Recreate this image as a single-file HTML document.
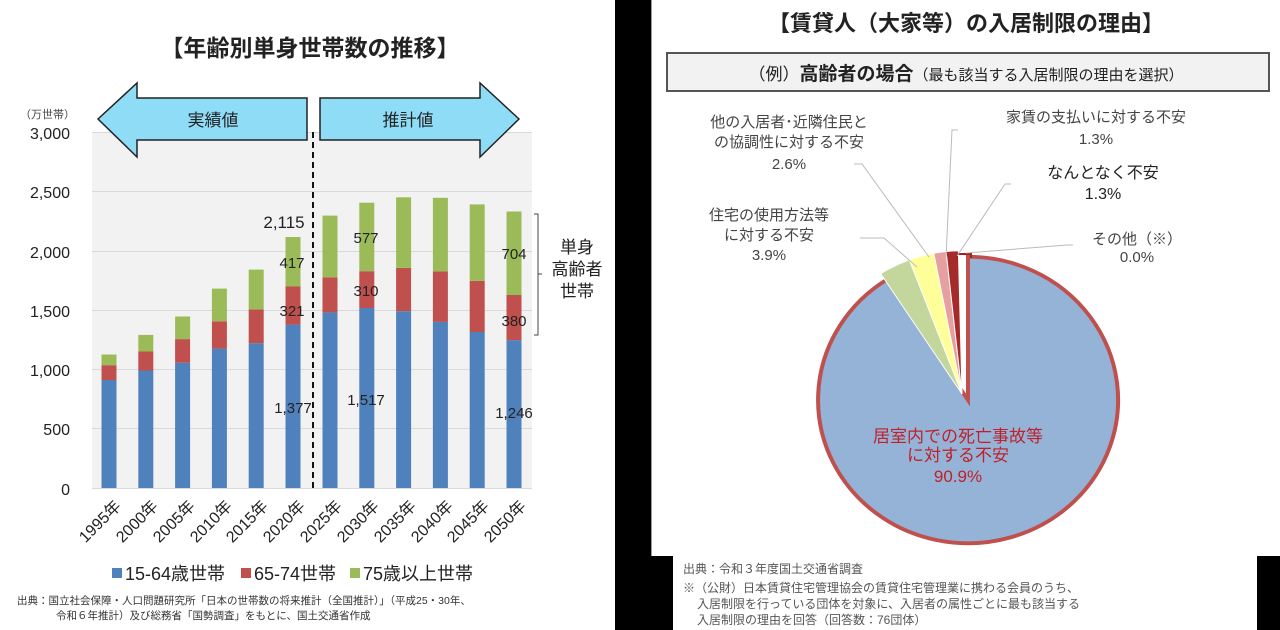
<!DOCTYPE html>
<html><head><meta charset="utf-8"><style>
html,body{margin:0;padding:0;background:#fff}
svg{display:block}
text{font-family:"Liberation Sans","Noto Sans CJK JP",sans-serif}
</style></head><body>
<svg width="1280" height="630" viewBox="0 0 1280 630" xmlns="http://www.w3.org/2000/svg">
<rect width="1280" height="630" fill="#fff"/>
<rect x="615" y="0" width="36" height="630" fill="#000"/>
<rect x="615" y="556" width="58" height="74" fill="#000"/>
<rect x="1257" y="556" width="23" height="74" fill="#000"/>
<line x1="651.5" y1="0" x2="651.5" y2="556" stroke="#999" stroke-width="1"/>

<text x="310" y="56" font-size="23" font-weight="bold" text-anchor="middle" fill="#222">【年齢別単身世帯数の推移】</text>
<rect x="92" y="132" width="440" height="356" fill="#f2f2f2"/>
<g stroke="#d9d9d9" stroke-width="1">
<line x1="92" y1="132.5" x2="532" y2="132.5"/>
<line x1="92" y1="191.5" x2="532" y2="191.5"/>
<line x1="92" y1="251.5" x2="532" y2="251.5"/>
<line x1="92" y1="310.5" x2="532" y2="310.5"/>
<line x1="92" y1="369.5" x2="532" y2="369.5"/>
<line x1="92" y1="428.5" x2="532" y2="428.5"/>
<line x1="92" y1="488.5" x2="532" y2="488.5"/>
</g>
<text x="20" y="118" font-size="11" fill="#444">（万世帯）</text>
<g font-size="16" fill="#222" text-anchor="end">
<text x="70" y="139">3,000</text>
<text x="70" y="198">2,500</text>
<text x="70" y="258">2,000</text>
<text x="70" y="317">1,500</text>
<text x="70" y="376">1,000</text>
<text x="70" y="435">500</text>
<text x="70" y="495">0</text>
</g>
<g>
<rect x="101.5" y="380" width="15" height="108" fill="#4f81bd"/><rect x="101.5" y="365.2" width="15" height="14.8" fill="#c0504d"/><rect x="101.5" y="354.5" width="15" height="10.7" fill="#9bbb59"/>
<rect x="138.3" y="370.5" width="15" height="117.5" fill="#4f81bd"/><rect x="138.3" y="351.5" width="15" height="19" fill="#c0504d"/><rect x="138.3" y="334.9" width="15" height="16.6" fill="#9bbb59"/>
<rect x="175.1" y="362.8" width="15" height="125.2" fill="#4f81bd"/><rect x="175.1" y="339.1" width="15" height="23.7" fill="#c0504d"/><rect x="175.1" y="316.5" width="15" height="22.6" fill="#9bbb59"/>
<rect x="211.9" y="348.6" width="15" height="139.4" fill="#4f81bd"/><rect x="211.9" y="321.3" width="15" height="27.3" fill="#c0504d"/><rect x="211.9" y="288.6" width="15" height="32.7" fill="#9bbb59"/>
<rect x="248.7" y="343.2" width="15" height="144.8" fill="#4f81bd"/><rect x="248.7" y="309.4" width="15" height="33.8" fill="#c0504d"/><rect x="248.7" y="269.6" width="15" height="39.8" fill="#9bbb59"/>
<rect x="285.5" y="324.6" width="15" height="163.4" fill="#4f81bd"/><rect x="285.5" y="286.5" width="15" height="38.1" fill="#c0504d"/><rect x="285.5" y="237" width="15" height="49.5" fill="#9bbb59"/>
<rect x="322.5" y="312.4" width="15" height="175.6" fill="#4f81bd"/><rect x="322.5" y="277.4" width="15" height="35" fill="#c0504d"/><rect x="322.5" y="215.6" width="15" height="61.8" fill="#9bbb59"/>
<rect x="359.3" y="308" width="15" height="180" fill="#4f81bd"/><rect x="359.3" y="271.2" width="15" height="36.8" fill="#c0504d"/><rect x="359.3" y="202.7" width="15" height="68.5" fill="#9bbb59"/>
<rect x="396.1" y="311.2" width="15" height="176.8" fill="#4f81bd"/><rect x="396.1" y="267.9" width="15" height="43.3" fill="#c0504d"/><rect x="396.1" y="197.3" width="15" height="70.6" fill="#9bbb59"/>
<rect x="432.9" y="321.9" width="15" height="166.1" fill="#4f81bd"/><rect x="432.9" y="271.4" width="15" height="50.5" fill="#c0504d"/><rect x="432.9" y="197.8" width="15" height="73.6" fill="#9bbb59"/>
<rect x="469.7" y="332" width="15" height="156" fill="#4f81bd"/><rect x="469.7" y="280.9" width="15" height="51.1" fill="#c0504d"/><rect x="469.7" y="204.4" width="15" height="76.5" fill="#9bbb59"/>
<rect x="506.5" y="340.1" width="15" height="147.9" fill="#4f81bd"/><rect x="506.5" y="295" width="15" height="45.1" fill="#c0504d"/><rect x="506.5" y="211.5" width="15" height="83.5" fill="#9bbb59"/>
</g>
<line x1="313" y1="132" x2="313" y2="490" stroke="#111" stroke-width="2" stroke-dasharray="6,4"/>
<polygon points="98,119 137,83 137,98 307,98 307,140 137,140 137,157" fill="#8fdcf7" stroke="#222" stroke-width="1.5"/>
<text x="213" y="126" font-size="17" text-anchor="middle" fill="#222">実績値</text>
<polygon points="519,119 480,83 480,98 320,98 320,140 480,140 480,157" fill="#8fdcf7" stroke="#222" stroke-width="1.5"/>
<text x="408" y="126" font-size="17" text-anchor="middle" fill="#222">推計値</text>
<g font-size="15" fill="#222" text-anchor="middle">
<text x="284" y="228" font-size="17">2,115</text>
<text x="292" y="268">417</text>
<text x="292" y="316">321</text>
<text x="293" y="413">1,377</text>
<text x="366" y="243">577</text>
<text x="366" y="296">310</text>
<text x="366" y="405">1,517</text>
<text x="514" y="259">704</text>
<text x="514" y="326">380</text>
<text x="514" y="418">1,246</text>
</g>
<path d="M534,214 h4 v121 h-4 M538,274 h4" stroke="#444" fill="none" stroke-width="1"/>
<g font-size="17" fill="#222" text-anchor="middle">
<text x="577" y="253">単身</text>
<text x="577" y="275">高齢者</text>
<text x="577" y="297">世帯</text>
</g>
<g font-size="16" fill="#222" text-anchor="end">
<text transform="translate(122,507) rotate(-45)">1995年</text>
<text transform="translate(159,507) rotate(-45)">2000年</text>
<text transform="translate(196,507) rotate(-45)">2005年</text>
<text transform="translate(233,507) rotate(-45)">2010年</text>
<text transform="translate(269,507) rotate(-45)">2015年</text>
<text transform="translate(306,507) rotate(-45)">2020年</text>
<text transform="translate(343,507) rotate(-45)">2025年</text>
<text transform="translate(380,507) rotate(-45)">2030年</text>
<text transform="translate(417,507) rotate(-45)">2035年</text>
<text transform="translate(454,507) rotate(-45)">2040年</text>
<text transform="translate(490,507) rotate(-45)">2045年</text>
<text transform="translate(527,507) rotate(-45)">2050年</text>
</g>
<rect x="112" y="568" width="10" height="10" fill="#4f81bd"/>
<text x="125" y="580" font-size="18" fill="#222">15-64歳世帯</text>
<rect x="241" y="568" width="10" height="10" fill="#c0504d"/>
<text x="254" y="580" font-size="18" fill="#222">65-74世帯</text>
<rect x="350" y="568" width="10" height="10" fill="#9bbb59"/>
<text x="363" y="580" font-size="18" fill="#222">75歳以上世帯</text>
<text x="17" y="604" font-size="10.5" fill="#333">出典：国立社会保障・人口問題研究所「日本の世帯数の将来推計（全国推計）」（平成25・30年、</text>
<text x="56" y="619" font-size="10.5" fill="#333">令和６年推計）及び総務省「国勢調査」をもとに、国土交通省作成</text>

<text x="966" y="31" font-size="22" font-weight="bold" text-anchor="middle" fill="#222">【賃貸人（大家等）の入居制限の理由】</text>
<rect x="667" y="53" width="602" height="38" fill="#f2f2f2" stroke="#555" stroke-width="2"/>
<text x="966" y="80" font-size="15" text-anchor="middle" fill="#222"><tspan font-size="17">（例）</tspan><tspan font-weight="bold" font-size="19">高齢者の場合</tspan><tspan font-size="15">（最も該当する入居制限の理由を選択）</tspan></text>

<g transform="translate(968,400) scale(1,0.955)">
<path d="M0,0 L0,-150 A150,150 0 1,1 -81.3,-126 Z" fill="#95b3d7" stroke="#c0504d" stroke-width="4" stroke-linejoin="miter"/>
</g>
<g transform="translate(962,394) scale(1,0.955)" stroke="#fff" stroke-width="1">
<path d="M0,0 L-81.3,-126 A150,150 0 0,1 -52.7,-140.4 Z" fill="#c3d69b"/>
<path d="M0,0 L-52.7,-140.4 A150,150 0 0,1 -28.2,-147.3 Z" fill="#ffff99"/>
<path d="M0,0 L-28.2,-147.3 A150,150 0 0,1 -15.9,-149.2 Z" fill="#e6a0a0"/>
<path d="M0,0 L-15.9,-149.2 A150,150 0 0,1 -3.6,-150 Z" fill="#a52a2a"/>
</g>
<path d="M957,258 L957,254 L971,254 L971,258" stroke="#a02020" stroke-width="2" fill="none"/>
<g stroke="#bbb" stroke-width="1" fill="none">
<polyline points="860,238 884,238 917,267"/>
<polyline points="854,164 862,164 929,257"/>
<polyline points="958,130 952,130 946,257"/>
<polyline points="1011,184 1005,184 957,256"/>
<polyline points="1073,245 1067,245 966,253"/>
</g>
<g font-size="15" fill="#444" text-anchor="middle">
<text x="789" y="127">他の入居者･近隣住民と</text>
<text x="789" y="147">の協調性に対する不安</text>
<text x="789" y="169">2.6%</text>
<text x="769" y="220">住宅の使用方法等</text>
<text x="769" y="240">に対する不安</text>
<text x="769" y="260">3.9%</text>
<text x="1096" y="122">家賃の支払いに対する不安</text>
<text x="1096" y="144">1.3%</text>
<text x="1137" y="244">その他（※）</text>
<text x="1137" y="262">0.0%</text>
</g>
<g font-size="16" fill="#222" text-anchor="middle">
<text x="1103" y="178">なんとなく不安</text>
<text x="1103" y="199">1.3%</text>
</g>
<g font-size="17" fill="#c0202a" text-anchor="middle">
<text x="958" y="442">居室内での死亡事故等</text>
<text x="958" y="461">に対する不安</text>
<text x="958" y="482">90.9%</text>
</g>
<g font-size="12" fill="#555">
<text x="683" y="573">出典：令和３年度国土交通省調査</text>
<text x="683" y="592">※（公財）日本賃貸住宅管理協会の賃貸住宅管理業に携わる会員のうち、</text>
<text x="697" y="608">入居制限を行っている団体を対象に、入居者の属性ごとに最も該当する</text>
<text x="697" y="624">入居制限の理由を回答（回答数：76団体）</text>
</g>
</svg>
</body></html>
